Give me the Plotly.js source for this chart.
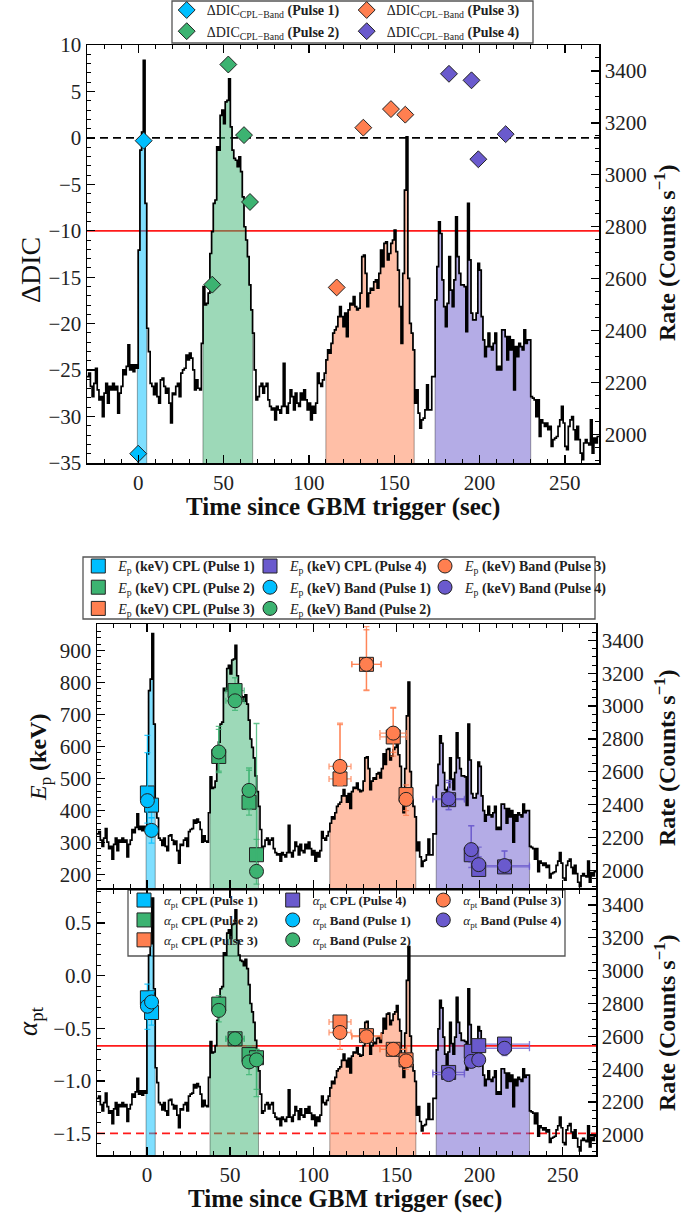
<!DOCTYPE html>
<html>
<head>
<meta charset="utf-8">
<script src="https://cdn.plot.ly/plotly-3.0.1.min.js"></script>
<style>html,body{margin:0;padding:0;background:#fff}</style>
</head>
<body>
<div id="chart" style="width:700px;height:1213px"></div>
<script>
// ---------------- data ----------------
const timeRange = [-30, 270];
const binStart = -30;   // left edge of the first light-curve bin (s)
const binWidth = 1;     // bin width (s)
// GBM count rate (counts / s), one value per bin
const rate = [
  2223, 2236, 2185, 2146, 2197, 2255, 2172, 2133, 2146, 2069,
  2159, 2197, 2121, 2185, 2172, 2197, 2172, 2185, 2082, 2159,
  2185, 2249, 2230, 2262, 2345, 2249, 2268, 2242, 2268, 2255,
  2710, 3095, 3165, 3441, 2890, 2409, 2319, 2197, 2185, 2153,
  2197, 2146, 2121, 2210, 2217, 2185, 2159, 2178, 2121, 2044,
  2159, 2153, 2185, 2197, 2146, 2236, 2249, 2255, 2306, 2287,
  2313, 2294, 2249, 2172, 2210, 2178, 2172, 2351, 2569, 2499,
  2505, 2544, 2697, 2781, 2890, 2903, 3108, 3095, 3229, 3249,
  3197, 3281, 3287, 3370, 3185, 3095, 3063, 3056, 3031, 3069,
  3012, 2915, 2800, 2749, 2685, 2576, 2480, 2390, 2249, 2133,
  2146, 2185, 2197, 2159, 2185, 2197, 2133, 2108, 2095, 2101,
  2056, 2108, 2095, 2082, 2108, 2274, 2108, 2082, 2121, 2172,
  2146, 2095, 2159, 2121, 2108, 2159, 2133, 2172, 2133, 2095,
  2121, 2056, 2108, 2082, 2121, 2236, 2197, 2185, 2210, 2236,
  2287, 2326, 2313, 2351, 2390, 2403, 2415, 2454, 2492, 2454,
  2415, 2467, 2377, 2480, 2505, 2499, 2531, 2492, 2480, 2486,
  2544, 2685, 2691, 2620, 2492, 2544, 2563, 2556, 2588, 2595,
  2563, 2620, 2710, 2646, 2736, 2742, 2672, 2697, 2736, 2749,
  2787, 2704, 2633, 2492, 2351, 2620, 2941, 3146, 2601, 2428,
  2390, 2326, 2121, 2172, 2082, 2024, 2056, 2063, 2095, 2191,
  2095, 2095, 2223, 2223, 2518, 2646, 2819, 2774, 2595, 2492,
  2415, 2505, 2685, 2556, 2492, 2595, 2838, 2685, 2620, 2576,
  2576, 2569, 2396, 2890, 2672, 2467, 2441, 2441, 2467, 2659,
  2633, 2454, 2364, 2300, 2338, 2390, 2338, 2326, 2351, 2390,
  2249, 2262, 2249, 2403, 2403, 2377, 2287, 2377, 2326, 2364,
  2172, 2338, 2300, 2351, 2338, 2326, 2403, 2351, 2364, 2364,
  2146, 2140, 2133, 2069, 2133, 1992, 2056, 2044, 2031, 2044,
  2018, 2031, 1954, 1980, 1986, 1992, 2031, 2056, 2108, 2044,
  1954, 1941, 2031, 2056, 2069, 2018, 1980, 2031, 1980, 1928,
  1903, 1967, 1980, 1967, 1960, 2056, 1928, 1986, 1967, 1992
];

const pulseLabels = ['Pulse 1', 'Pulse 2', 'Pulse 3', 'Pulse 4'];
const pulseStart = [-0.5, 37.8, 109.8, 173.7];
const pulseEnd = [5.0, 67.4, 161.7, 230.0];

// ΔDIC (CPL − Band) per time bin
const dicTime = [[0.0, 3.2], [43.4, 52.8, 62.0, 65.5], [116.3, 131.9, 148.1, 156.5], [182.1, 195.3, 199.3, 215.3]];
const dicValue = [[-34.0, -0.3], [-15.8, 7.9, 0.3, -6.9], [-16.1, 1.1, 3.1, 2.5], [6.9, 6.2, -2.3, 0.4]];
const dicRefSolid = -10;
const dicRefDashed = 0;

// time-resolved fits: bin centre and half width (s)
const fitTime = [[0.3, 2.8], [43.2, 53.0, 61.4, 65.9], [116.1, 132.0, 148.1, 155.8], [181.4, 195.0, 199.5, 215.0]];
const fitTimeErr = [[0.8, 0.8], [2.5, 5.5, 2.5, 1.2], [6.6, 8.8, 8.0, 2.0], [9.5, 2.0, 2.0, 15.0]];

// peak energy Ep (keV)
const epCpl = [[455, 417], [569, 775, 426, 262], [499, 857, 630, 450], [434, 262, 216, 224]];
const epCplPlus = [[180, 45], [85, 40, 100, 410], [170, 118, 90, 30], [60, 90, 40, 50]];
const epCplMinus = [[60, 40], [50, 50, 40, 60], [20, 82, 60, 50], [30, 40, 20, 20]];
const epBand = [[431, 338], [583, 743, 463, 210], [538, 857, 642, 435], [437, 278, 231, 228]];
const epBandPlus = [[150, 40], [80, 45, 70, 100], [135, 108, 80, 30], [50, 75, 55, 45]];
const epBandMinus = [[70, 40], [60, 30, 60, 40], [60, 80, 60, 50], [35, 40, 25, 20]];

// low-energy photon index alpha_pt
const alCpl = [[-0.21, -0.35], [-0.27, -0.60, -0.75, -0.78], [-0.44, -0.57, -0.70, -0.80], [-0.92, -0.72, -0.665, -0.65]];
const alCplPlus = [[0.13, 0.10], [0.08, 0.05, 0.08, 0.08], [0.06, 0.05, 0.05, 0.05], [0.05, 0.05, 0.05, 0.05]];
const alCplMinus = [[0.15, 0.12], [0.10, 0.05, 0.10, 0.30], [0.08, 0.05, 0.05, 0.06], [0.05, 0.05, 0.05, 0.05]];
const alBand = [[-0.29, -0.25], [-0.33, -0.60, -0.82, -0.80], [-0.54, -0.58, -0.70, -0.81], [-0.94, -0.815, -0.80, -0.69]];
const alBandPlus = [[0.12, 0.10], [0.08, 0.05, 0.08, 0.10], [0.06, 0.05, 0.05, 0.05], [0.05, 0.05, 0.05, 0.07]];
const alBandMinus = [[0.22, 0.15], [0.11, 0.05, 0.12, 0.35], [0.16, 0.05, 0.05, 0.08], [0.05, 0.06, 0.06, 0.07]];
const alphaRefSolid = -2 / 3;
const alphaRefDashed = -1.5;

// ---------------- styling ----------------
const pulseColors = ['#00bfff', '#3cb371', '#ff7f50', '#6a5acd'];
const pulseFills = ['rgba(0,191,255,0.5)', 'rgba(60,179,113,0.5)', 'rgba(255,127,80,0.5)', 'rgba(106,90,205,0.5)'];
const pulseErr = ['rgba(0,191,255,0.8)', 'rgba(60,179,113,0.8)', 'rgba(255,127,80,0.8)', 'rgba(106,90,205,0.8)'];
const SERIF = 'Liberation Serif, DejaVu Serif, serif';
const W = 700, H = 1213;

const boxTop = {l: 87, r: 599, t: 45, b: 463};
const boxMid = {l: 97, r: 596, t: 624, b: 888};
const boxBot = {l: 97, r: 596, t: 890, b: 1155};
const xDom = b => [b.l / W, b.r / W];
const yDom = b => [1 - b.b / H, 1 - b.t / H];

// step outline of the binned light curve between t0 and t1
function stepXY(t0, t1) {
  const xs = [], ys = [];
  rate.forEach((v, i) => {
    const a = binStart + i * binWidth, b = a + binWidth;
    if (b <= t0 || a >= t1) return;
    xs.push(Math.max(a, t0), Math.min(b, t1));
    ys.push(v, v);
  });
  return {xs, ys};
}

function lightCurveTraces(xa, ya) {
  const out = [];
  pulseStart.forEach((s, i) => {
    const st = stepXY(s, pulseEnd[i]);
    out.push({
      x: [s, ...st.xs, pulseEnd[i], s], y: [0, ...st.ys, 0, 0],
      xaxis: xa, yaxis: ya, mode: 'lines', fill: 'toself',
      fillcolor: pulseFills[i], line: {color: 'rgba(0,0,0,0.35)', width: 1},
      hoverinfo: 'skip', showlegend: false
    });
  });
  const all = stepXY(timeRange[0], timeRange[1]);
  out.push({
    x: all.xs, y: all.ys, xaxis: xa, yaxis: ya, mode: 'lines',
    line: {color: '#000', width: 1.7}, hoverinfo: 'skip', showlegend: false
  });
  return out;
}

const traces = [];
traces.push(...lightCurveTraces('x', 'y'));
traces.push(...lightCurveTraces('x2', 'y3'));
traces.push(...lightCurveTraces('x3', 'y5'));

// ΔDIC diamonds
pulseLabels.forEach((p, i) => {
  traces.push({
    x: dicTime[i], y: dicValue[i], xaxis: 'x', yaxis: 'y2', mode: 'markers',
    name: 'ΔDIC<sub>CPL−Band</sub> <b>(' + p + ')</b>',
    legend: i < 2 ? 'legend' : 'legend2',
    marker: {symbol: 'diamond', size: 13, color: pulseColors[i], line: {color: '#222', width: 1}}
  });
});

function fitTrace(i, ya, xa, vals, plus, minus, symbol, name, legend) {
  return {
    x: fitTime[i], y: vals[i], xaxis: xa, yaxis: ya, mode: 'markers', name, legend,
    marker: {symbol, size: 14, color: pulseColors[i], line: {color: '#222', width: 1}},
    error_x: {type: 'data', array: fitTimeErr[i], color: pulseErr[i], thickness: 1.3, width: 3},
    error_y: {type: 'data', array: plus[i], arrayminus: minus[i], color: pulseErr[i], thickness: 1.3, width: 3}
  };
}
const legCpl = ['legend3', 'legend3', 'legend3', 'legend4'];
const legBand = ['legend4', 'legend4', 'legend5', 'legend5'];
pulseLabels.forEach((p, i) => traces.push(fitTrace(i, 'y4', 'x2', epCpl, epCplPlus, epCplMinus, 'square',
  '<i>E</i><sub>p</sub> <b>(keV) CPL (' + p + ')</b>', legCpl[i])));
pulseLabels.forEach((p, i) => traces.push(fitTrace(i, 'y4', 'x2', epBand, epBandPlus, epBandMinus, 'circle',
  '<i>E</i><sub>p</sub> <b>(keV) Band (' + p + ')</b>', legBand[i])));
const legCplA = ['legend6', 'legend6', 'legend6', 'legend7'];
const legBandA = ['legend7', 'legend7', 'legend8', 'legend8'];
pulseLabels.forEach((p, i) => traces.push(fitTrace(i, 'y6', 'x3', alCpl, alCplPlus, alCplMinus, 'square',
  '<i>α</i><sub>pt</sub> <b>CPL (' + p + ')</b>', legCplA[i])));
pulseLabels.forEach((p, i) => traces.push(fitTrace(i, 'y6', 'x3', alBand, alBandPlus, alBandMinus, 'circle',
  '<i>α</i><sub>pt</sub> <b>Band (' + p + ')</b>', legBandA[i])));

// ---------------- axes ----------------
const tickFont = {family: SERIF, size: 21, color: '#222'};
function axis(extra, minorDtick) {
  return Object.assign({
    showgrid: false, zeroline: false, showline: true, linecolor: '#000', linewidth: 1.5,
    ticks: 'inside', ticklen: 8, tickwidth: 1.3, tickcolor: '#000', tickfont: tickFont,
    fixedrange: true,
    minor: {ticks: 'inside', ticklen: 4, tickwidth: 1, tickcolor: '#000', dtick: minorDtick, showgrid: false}
  }, extra);
}
const xCommon = {range: timeRange, dtick: 50, tick0: 0, mirror: 'ticks'};

function legendAt(px, py, size) {
  return {x: px / W, y: 1 - py / H, xanchor: 'left', yanchor: 'top', orientation: 'v',
    bgcolor: 'rgba(0,0,0,0)', borderwidth: 0, font: {family: SERIF, size, color: '#222'}};
}
function frame(x0, y0, x1, y1, fill, layer) {
  return {type: 'rect', xref: 'paper', yref: 'paper', x0: x0 / W, x1: x1 / W, y0: 1 - y1 / H, y1: 1 - y0 / H,
    line: {color: '#555', width: 1.3}, fillcolor: fill, layer};
}
function hline(xa, ya, y, color, dash) {
  return {type: 'line', xref: xa, yref: ya, x0: timeRange[0], x1: timeRange[1], y0: y, y1: y,
    line: {color, width: 1.8, dash}, layer: 'below'};
}
function title(text, px, py, size, angle) {
  return {text, x: px / W, y: 1 - py / H, xref: 'paper', yref: 'paper', showarrow: false,
    textangle: angle || 0, xanchor: 'center', yanchor: 'middle', font: {family: SERIF, size, color: '#111'}};
}
const rateTitle = '<b>Rate (Counts s<sup>−1</sup>)</b>';

const layout = {
  width: W, height: H, margin: {l: 0, r: 0, t: 0, b: 0, autoexpand: false},
  paper_bgcolor: '#fff', plot_bgcolor: 'rgba(0,0,0,0)', showlegend: true,
  xaxis: axis(Object.assign({domain: xDom(boxTop), anchor: 'y'}, xCommon), 10),
  yaxis: axis({domain: yDom(boxTop), anchor: 'x', side: 'right', range: [1890, 3500], dtick: 200, tick0: 0}, 50),
  yaxis2: axis({overlaying: 'y', anchor: 'x', side: 'left', range: [-35, 10], dtick: 5, tick0: 0}, 1),
  xaxis2: axis(Object.assign({domain: xDom(boxMid), anchor: 'y3', showticklabels: false}, xCommon), 10),
  yaxis3: axis({domain: yDom(boxMid), anchor: 'x2', side: 'right', range: [1893, 3500], dtick: 200, tick0: 0}, 50),
  yaxis4: axis({overlaying: 'y3', anchor: 'x2', side: 'left', range: [158, 983], dtick: 100, tick0: 0}, 20),
  xaxis3: axis(Object.assign({domain: xDom(boxBot), anchor: 'y5'}, xCommon), 10),
  yaxis5: axis({domain: yDom(boxBot), anchor: 'x3', side: 'right', range: [1878, 3491], dtick: 200, tick0: 0}, 50),
  yaxis6: axis({overlaying: 'y5', anchor: 'x3', side: 'left', range: [-1.705, 0.815], dtick: 0.5, tick0: 0, tickformat: '.1f'}, 0.1),
  legend: legendAt(166.7, -5.6, 14),
  legend2: legendAt(346.7, -5.6, 14),
  legend3: legendAt(78.3, 550.4, 14),
  legend4: legendAt(250, 550.4, 14),
  legend5: legendAt(425, 550.4, 14),
  legend6: legendAt(124, 885.1, 13),
  legend7: legendAt(272.7, 885.1, 13),
  legend8: legendAt(423.3, 885.1, 13),
  shapes: [
    hline('x', 'y2', dicRefDashed, '#000', '8px,5px'),
    hline('x', 'y2', dicRefSolid, '#ff1a1a', 'solid'),
    hline('x3', 'y6', alphaRefSolid, '#ff1a1a', 'solid'),
    hline('x3', 'y6', alphaRefDashed, '#ff1a1a', '8px,5px'),
    frame(172, 1, 533, 43, 'rgba(255,255,255,0)', 'above'),
    frame(83, 557, 595, 619, 'rgba(255,255,255,0)', 'above'),
    frame(128, 890, 565, 956, 'rgba(255,255,255,0.8)', 'below')
  ],
  annotations: [
    title('ΔDIC', 30, 270, 28, -90),
    title(rateTitle, 665, 253, 24, -90),
    title('<b>Time since GBM trigger (sec)</b>', 343, 507, 25),
    title('<i>E</i><sub>p</sub> <b>(keV)</b>', 40, 758, 24, -90),
    title(rateTitle, 665, 758, 24, -90),
    title('<i>α</i><sub>pt</sub>', 30, 1021, 27, -90),
    title(rateTitle, 665, 1023, 24, -90),
    title('<b>Time since GBM trigger (sec)</b>', 345, 1199, 25)
  ]
};

Plotly.newPlot('chart', traces, layout, {staticPlot: true, displayModeBar: false});
</script>
</body>
</html>
